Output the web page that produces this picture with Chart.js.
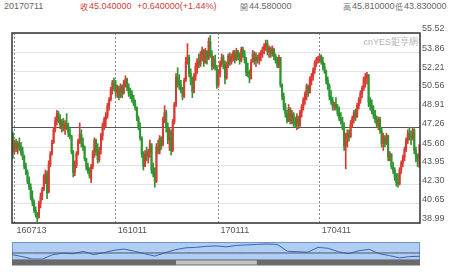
<!DOCTYPE html>
<html lang="zh-Hant">
<head>
<meta charset="UTF-8">
<title>20170711</title>
<script src="https://cdn.jsdelivr.net/npm/chart.js"></script>
<style>
  body { margin: 0; width: 450px; height: 272px; background: #fff; position: relative; overflow: hidden;
         font-family: "Liberation Sans", "Noto Sans CJK TC", sans-serif; }
  .hd { position: absolute; top: 1px; font-size: 9px; line-height: 11px; color: #666; white-space: nowrap; }
  .cj { font-family: "Noto Sans CJK TC", sans-serif; font-size: 8px; top: 1px; color: #777; }
  .up { color: #d23c3c; }
  #mark { position: absolute; right: 32px; top: 35px; font-size: 9px; color: #b4b4b4; }
  #main { position: absolute; left: 0; top: 0; }
  #nav { position: absolute; left: 0; top: 241px; }
</style>
</head>
<body>
<div class="hd" style="left:4px">20170711</div>
<div class="hd cj up" style="left:80px">收</div><div class="hd up" style="left:89px">45.040000</div>
<div class="hd up" style="left:137px">+0.640000(+1.44%)</div>
<div class="hd cj" style="left:240px">開</div><div class="hd" style="left:249px">44.580000</div>
<div class="hd cj" style="left:343px">高</div><div class="hd" style="left:352px">45.810000</div>
<div class="hd cj" style="left:395px">低</div><div class="hd" style="left:404px">43.830000</div>
<canvas id="main" width="450" height="240"></canvas>
<div id="mark">cnYES鉅亨網</div>
<canvas id="nav" width="450" height="26"></canvas>

<script>
// daily candles, 20160713 .. 20170711
const open = [
  46.7,45.3,46.0,45.5,45.9,45.6,45.2,44.8,43.9,43.4,
  42.6,42.1,41.2,40.8,40.1,39.7,39.5,40.7,41.3,41.9,
  43.0,43.3,41.7,44.1,45.0,46.0,47.1,47.9,48.5,47.9,
  47.5,47.8,47.2,47.6,47.4,46.8,46.6,45.2,43.4,44.0,
  45.0,46.1,46.7,45.9,45.6,44.6,43.9,43.5,42.8,43.9,
  45.1,46.2,45.2,44.5,45.4,46.6,47.5,48.0,48.3,49.2,
  49.7,50.6,51.2,51.0,50.4,50.6,50.0,50.9,50.3,51.2,
  51.5,50.8,50.3,50.2,49.8,49.4,49.0,48.1,47.3,46.4,
  45.0,43.9,45.0,44.8,45.2,45.9,43.6,43.3,42.6,45.6,
  45.3,46.4,45.8,48.0,48.6,47.3,46.2,46.9,45.3,47.8,
  49.3,51.7,51.2,51.0,50.5,50.0,51.4,53.0,53.4,52.0,
  51.3,50.4,51.8,52.6,53.1,52.8,53.6,54.0,52.9,53.9,
  53.3,54.8,53.6,52.6,53.2,52.5,51.0,52.0,52.9,53.4,
  52.8,51.6,52.8,53.5,53.0,53.5,53.8,53.2,54.0,53.5,
  53.1,54.1,53.7,53.2,52.1,52.0,51.6,53.0,53.7,53.1,
  53.4,53.2,53.6,53.8,54.1,54.4,54.6,53.9,54.2,53.7,
  54.1,53.5,53.1,52.7,53.4,51.0,50.0,49.1,48.5,47.9,
  49.0,47.9,48.5,47.7,47.6,48.2,47.5,48.6,49.1,49.7,
  50.2,50.9,50.3,51.5,51.8,52.3,52.9,53.2,53.3,53.5,
  53.0,52.6,52.2,51.4,50.9,50.0,49.6,49.1,49.3,49.0,
  48.5,48.1,47.8,47.3,45.7,46.1,46.8,46.5,47.6,48.1,
  48.6,48.2,49.2,49.7,50.3,50.7,51.5,51.7,51.9,49.5,
  49.2,48.8,48.4,48.0,47.5,48.0,47.0,45.9,46.4,45.9,
  46.6,44.7,45.0,43.9,43.6,43.0,42.5,42.4,43.6,44.2,
  44.7,45.4,46.2,46.8,46.5,46.4,47.1,45.3,44.6,44.58
];
const high = [
  46.9,46.2,46.3,46.1,46.4,46.0,45.6,44.9,44.2,43.6,
  43.0,42.4,41.8,41.0,40.4,39.9,40.9,41.6,42.1,43.2,
  43.6,43.5,44.4,45.2,46.2,47.3,48.2,48.8,48.7,48.4,
  48.0,48.1,47.9,48.5,47.7,47.2,46.6,45.3,44.4,45.2,
  46.3,47.7,47.1,46.4,45.7,44.6,44.2,43.8,44.1,45.3,
  46.4,46.3,45.9,45.6,46.8,47.7,48.2,48.6,49.4,49.9,
  50.8,51.4,51.6,51.4,51.0,50.9,51.1,51.0,51.4,51.8,
  51.6,51.1,50.7,50.5,50.1,49.7,49.1,48.3,47.7,46.5,
  45.2,45.3,45.6,45.4,46.2,45.8,44.2,43.8,45.9,46.2,
  46.6,46.5,48.2,49.2,48.8,47.7,47.3,47.1,48.0,49.5,
  52.0,52.5,51.9,51.4,50.8,51.6,53.4,54.6,53.6,52.4,
  51.7,52.0,52.9,53.3,53.7,53.9,54.3,54.1,54.2,54.0,
  55.1,55.3,54.0,53.5,53.6,52.7,52.3,53.1,53.7,53.6,
  53.1,53.0,53.7,53.8,53.7,54.0,54.0,54.2,54.0,53.8,
  54.3,54.3,54.0,53.4,52.9,52.3,53.2,54.0,53.9,53.8,
  53.6,53.8,54.0,54.3,54.6,54.9,54.9,54.4,54.3,54.4,
  54.2,53.7,53.4,53.6,53.4,51.1,50.3,49.4,48.8,49.3,
  49.0,48.8,48.6,48.2,48.5,48.3,48.8,49.3,49.9,50.4,
  51.1,51.0,51.7,52.0,52.5,53.1,53.4,53.5,53.7,53.6,
  53.4,52.9,52.3,51.7,51.1,50.5,49.9,49.5,49.9,49.3,
  49.1,48.6,48.2,47.7,46.8,47.1,47.1,47.9,48.3,48.8,
  48.9,49.4,49.9,50.5,50.9,51.7,52.0,52.1,51.9,49.9,
  49.7,49.2,48.8,48.3,48.2,48.2,47.3,46.8,46.6,46.8,
  46.6,45.2,45.0,44.3,43.8,43.3,43.3,43.8,44.4,44.9,
  45.6,46.4,47.1,47.3,47.0,47.3,47.2,45.6,45.0,45.81
];
const low = [
  44.6,45.0,45.2,45.0,45.3,44.9,44.5,43.7,43.2,42.4,
  41.9,41.0,40.5,39.9,39.5,39.1,39.4,40.3,41.0,41.8,
  42.4,41.1,41.6,43.9,44.9,45.9,46.9,47.5,47.7,47.2,
  46.9,47.0,46.7,47.1,46.5,46.3,45.0,43.0,43.1,43.8,
  44.9,45.9,45.6,45.3,44.4,43.6,43.3,42.9,42.5,43.7,
  44.7,44.9,44.2,44.3,45.0,46.2,47.1,47.4,48.1,48.8,
  49.6,50.2,50.5,50.0,49.9,49.7,49.9,49.9,50.2,50.8,
  50.5,50.0,49.8,49.5,49.2,48.8,47.9,47.1,46.2,44.7,
  43.6,43.9,44.4,44.2,44.7,43.3,43.0,42.1,42.5,45.0,
  45.0,45.4,45.7,47.7,46.9,45.9,45.3,44.9,45.2,47.6,
  49.1,50.8,50.6,50.3,49.7,49.9,51.3,52.8,51.7,51.0,
  49.9,50.3,51.4,52.0,52.5,52.6,53.1,52.6,52.9,52.8,
  53.2,53.4,52.3,52.4,52.3,50.7,50.8,51.7,52.6,52.4,
  51.1,51.5,52.5,52.7,52.8,53.1,52.9,53.1,53.2,52.8,
  53.0,53.4,52.9,51.8,51.7,51.2,51.5,53.0,52.8,52.6,
  52.9,52.8,53.1,53.4,53.7,54.0,53.6,53.4,53.4,53.5,
  53.2,52.9,52.5,52.5,50.8,49.7,48.8,48.2,47.7,47.8,
  47.6,47.6,47.4,47.3,47.1,47.2,47.4,48.2,48.8,49.3,
  49.7,50.0,50.3,51.0,51.4,52.0,52.6,52.9,53.0,52.8,
  52.3,52.0,51.1,50.6,49.7,49.3,48.8,48.8,48.8,48.3,
  47.9,47.6,47.1,45.3,43.7,45.6,46.1,46.4,47.3,47.7,
  47.9,48.2,48.9,49.4,49.9,50.5,50.8,51.1,49.1,48.8,
  48.5,48.1,47.7,47.3,47.1,46.8,45.6,45.3,45.6,45.8,
  44.4,44.4,43.7,43.3,42.7,42.2,42.1,42.3,43.3,43.9,
  44.4,45.2,45.9,46.2,45.8,46.2,45.0,44.3,43.9,43.83
];
const close = [
  45.2,46.0,45.5,45.9,45.6,45.1,44.8,43.9,43.4,42.6,
  42.1,41.2,40.8,40.1,39.7,39.4,40.7,41.3,41.9,43.0,
  43.3,41.6,44.1,45.0,46.0,47.1,47.9,48.5,47.9,47.5,
  47.8,47.2,47.6,47.4,46.8,46.6,45.2,43.4,44.0,45.0,
  46.1,46.7,45.9,45.6,44.6,43.9,43.5,43.1,43.9,45.1,
  46.2,45.2,44.5,45.4,46.6,47.5,48.0,48.3,49.2,49.7,
  50.6,51.2,51.0,50.4,50.6,50.0,50.9,50.3,51.2,51.5,
  50.8,50.3,50.2,49.8,49.4,49.0,48.1,47.3,46.4,45.0,
  43.9,45.0,44.8,45.2,45.9,43.6,43.3,42.6,45.6,45.3,
  46.4,45.7,48.0,48.6,47.3,46.2,46.9,45.3,47.8,49.3,
  51.7,51.2,51.0,50.5,50.0,51.4,53.0,53.4,52.0,51.3,
  50.4,51.8,52.6,53.1,52.8,53.6,54.0,52.9,53.9,53.3,
  54.8,53.6,52.6,53.2,52.5,51.0,52.0,52.9,53.4,52.8,
  51.6,52.8,53.5,53.0,53.5,53.8,53.2,54.0,53.5,53.1,
  54.1,53.7,53.2,52.1,52.0,51.6,53.0,53.7,53.1,53.4,
  53.2,53.6,53.8,54.1,54.4,54.6,53.9,54.2,53.7,54.1,
  53.5,53.1,52.7,53.4,51.0,50.0,49.1,48.5,47.9,49.0,
  47.9,48.5,47.7,47.6,48.2,47.5,48.6,49.1,49.7,50.2,
  50.9,50.3,51.5,51.8,52.3,52.9,53.2,53.3,53.5,53.0,
  52.6,52.2,51.4,50.9,50.0,49.6,49.1,49.3,49.0,48.5,
  48.1,47.8,47.3,45.7,46.1,46.8,46.5,47.6,48.1,48.6,
  48.2,49.2,49.7,50.3,50.7,51.5,51.7,51.9,49.5,49.2,
  48.8,48.4,48.0,47.5,48.0,47.0,45.9,46.4,45.9,46.6,
  44.7,45.0,43.9,43.6,43.0,42.5,42.4,43.6,44.2,44.7,
  45.4,46.2,46.8,46.5,46.4,47.1,45.3,44.6,44.4,45.04
];

// axis labels
const tickIdx = [1, 63, 126, 188];
const tickText = ['160713', '161011', '170111', '170411'];
const yTicks = [38.99, 40.65, 42.30, 43.95, 45.60, 47.26, 48.91, 50.56, 52.21, 53.86, 55.52];
const refLevel = 47.26;

// navigator (long history)
const navValues = [
  5, 3, 0.5, 0.5, 5, 6.5, 6, 8.3, 5, 7,
  9.5, 10.7, 8.5, 6, 3.5, 7, 10, 12, 12.5, 13.5,
  14, 13, 14.5, 15, 15.5, 16, 15.5, 8.5, 8, 7.5,
  12.5, 11.5, 8, 6, 9, 10.5, 6, 4, 1.7, 3, 3.3
];
const navRef = 6.7;

const UP = '#dc3a33', DOWN = '#2d9630';
const candleColor = i => close[i] >= open[i] ? UP : DOWN;
const font = { family: '"Liberation Sans", sans-serif', size: 9 };

const frame = {
  id: 'frame',
  afterDraw(chart) {
    const { ctx, chartArea: a } = chart;
    ctx.save();
    ctx.strokeStyle = '#333';
    ctx.lineWidth = 1.5;
    ctx.strokeRect(a.left, a.top, a.right - a.left, a.bottom - a.top);
    ctx.restore();
  }
};

new Chart(document.getElementById('main'), {
  type: 'bar',
  data: {
    labels: close.map((_, i) => i),
    datasets: [
      {
        data: low.map((l, i) => [l, high[i]]),
        backgroundColor: c => candleColor(c.dataIndex),
        barThickness: 1,
        grouped: false
      },
      {
        data: open.map((o, i) => [o, close[i]]),
        backgroundColor: c => candleColor(c.dataIndex),
        barThickness: 1.4,
        grouped: false
      }
    ]
  },
  options: {
    responsive: false,
    animation: false,
    layout: { padding: { left: 12, top: 33 } },
    plugins: { legend: { display: false }, tooltip: { enabled: false } },
    scales: {
      x: {
        offset: true,
        grid: { offset: false, color: '#888', drawTicks: false },
        border: { display: false, dash: [2, 2] },
        ticks: {
          autoSkip: false, maxRotation: 0, align: 'start', labelOffset: 2, padding: 2,
          color: '#555', font,
          callback: v => tickText[tickIdx.indexOf(v)]
        },
        afterBuildTicks: s => { s.ticks = tickIdx.map(v => ({ value: v })); },
        afterFit: s => { s.height = 17; }
      },
      y: {
        position: 'right',
        min: yTicks[0],
        max: yTicks[yTicks.length - 1],
        grid: { color: c => (c.tick && c.tick.value === refLevel) ? '#555' : '#e2e2e2', drawTicks: false },
        border: { display: false },
        ticks: { padding: 2, labelOffset: -4, color: '#555', font, callback: v => v.toFixed(2) },
        afterBuildTicks: s => { s.ticks = yTicks.map(v => ({ value: v })); },
        afterFit: s => { s.width = 30; }
      }
    }
  },
  plugins: [frame]
});

const navBox = {
  id: 'navBox',
  beforeDatasetsDraw(chart) {
    const { ctx, chartArea: a } = chart;
    ctx.save();
    ctx.fillStyle = '#b0cdf2';
    ctx.fillRect(a.left, a.top, a.right - a.left, a.bottom - a.top);
    ctx.strokeStyle = '#6f93cc';
    ctx.lineWidth = 1;
    ctx.strokeRect(a.left + 0.5, a.top + 0.5, a.right - a.left - 1, a.bottom - a.top);
    // scrollbar
    const w = a.right - a.left;
    ctx.fillStyle = '#6a6a6a';
    ctx.fillRect(a.left, a.bottom, w, 6);
    ctx.fillStyle = '#c4c4c4';
    ctx.fillRect(a.left + w * 0.402, a.bottom + 1, w * 0.198, 4);
    ctx.restore();
  }
};

new Chart(document.getElementById('nav'), {
  type: 'line',
  data: {
    labels: navValues.map((_, i) => i),
    datasets: [
      { data: navValues.map(() => navRef), borderColor: '#4a5872', borderWidth: 1, pointRadius: 0 },
      { data: navValues, borderColor: '#3c66b0', borderWidth: 1, pointRadius: 0, tension: 0 }
    ]
  },
  options: {
    responsive: false,
    animation: false,
    layout: { padding: { left: 12, right: 30, top: 1, bottom: 7.5 } },
    plugins: { legend: { display: false }, tooltip: { enabled: false } },
    scales: {
      x: { display: false, offset: false },
      y: { display: false, min: 0, max: 18 }
    }
  },
  plugins: [navBox]
});
</script>
</body>
</html>
